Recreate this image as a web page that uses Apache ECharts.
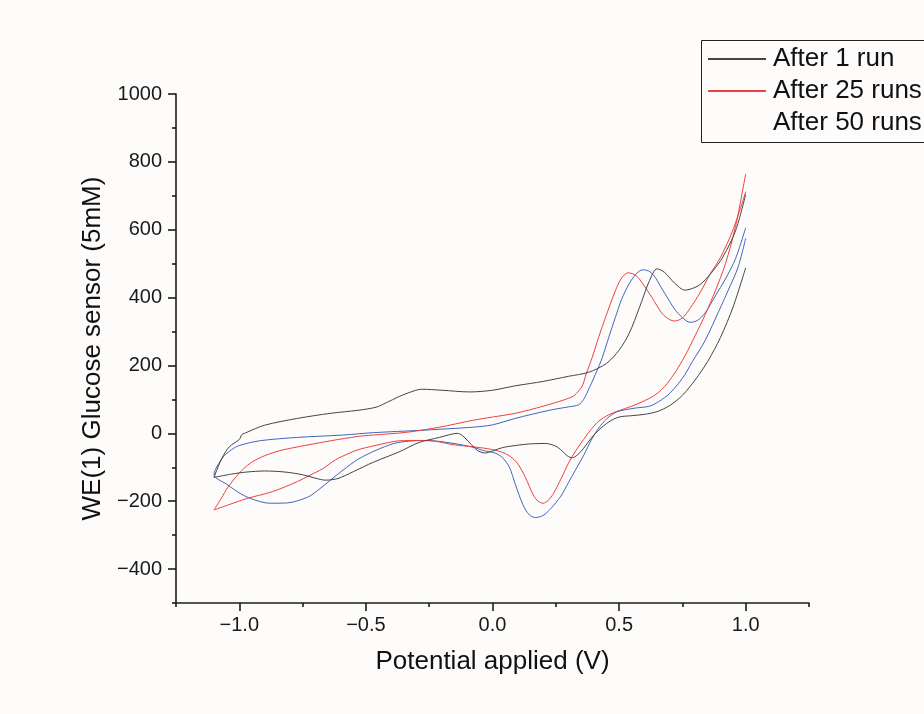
<!DOCTYPE html>
<html>
<head>
<meta charset="utf-8">
<style>
  html, body { margin: 0; padding: 0; background: #fdfcfb; }
  #chart { width: 924px; height: 714px; }
</style>
<script src="https://cdn.jsdelivr.net/npm/echarts@6/dist/echarts.min.js"></script>
</head>
<body>
<div id="chart"></div>
<script>
// Cyclic voltammograms of the glucose sensor working electrode.
// Each scan: return branch from +1.0 V down to -1.1 V, then forward branch back up to +1.0 V.
const seriesNames = ['After 1 run', 'After 25 runs', 'After 50 runs'];
const seriesColors = ['#454545', '#ee4040', '#4066b9'];

const run1Potential = [1.00, 0.95, 0.90, 0.85, 0.80, 0.75, 0.70, 0.65, 0.60, 0.55, 0.50, 0.46, 0.42, 0.39, 0.36, 0.335, 0.315, 0.295, 0.275, 0.25, 0.21, 0.15, 0.10, 0.04, 0.00, -0.03, -0.06, -0.09, -0.12, -0.14, -0.17, -0.21, -0.29, -0.37, -0.47, -0.55, -0.61, -0.66, -0.70, -0.75, -0.82, -0.90, -0.97, -1.03, -1.10,
  -1.07, -1.04, -1.00, -0.99, -0.97, -0.90, -0.77, -0.64, -0.53, -0.46, -0.42, -0.37, -0.33, -0.28, -0.20, -0.09, 0.00, 0.09, 0.20, 0.30, 0.38, 0.45, 0.50, 0.54, 0.58, 0.62, 0.65, 0.68, 0.72, 0.76, 0.80, 0.83, 0.87, 0.91, 0.96, 1.00];
const run1Current = [488, 372, 282, 212, 157, 112, 82, 64, 56, 52, 48, 34, 10, -14, -44, -64, -72, -66, -52, -38, -30, -31, -35, -42, -52, -58, -50, -28, -6, 0, -4, -12, -27, -55, -85, -113, -133, -138, -132, -122, -114, -111, -114, -120, -130,
  -75, -40, -18, -4, 3, 24, 44, 59, 68, 77, 90, 108, 120, 130, 127, 122, 127, 140, 153, 168, 180, 206, 245, 295, 370, 450, 485, 474, 442, 422, 430, 445, 478, 520, 597, 704];

const run25Potential = [1.00, 0.96, 0.92, 0.88, 0.84, 0.80, 0.76, 0.72, 0.68, 0.64, 0.60, 0.55, 0.50, 0.46, 0.42, 0.39, 0.36, 0.33, 0.30, 0.27, 0.24, 0.22, 0.20, 0.18, 0.16, 0.13, 0.10, 0.07, 0.04, 0.00, -0.04, -0.10, -0.16, -0.22, -0.28, -0.37, -0.41, -0.47, -0.53, -0.57, -0.62, -0.67, -0.72, -0.77, -0.87, -0.97, -1.04, -1.10,
  -1.07, -1.045, -1.00, -0.955, -0.90, -0.84, -0.77, -0.64, -0.53, -0.47, -0.34, -0.21, -0.08, 0.00, 0.09, 0.20, 0.28, 0.32, 0.34, 0.355, 0.37, 0.394, 0.42, 0.446, 0.485, 0.51, 0.535, 0.56, 0.58, 0.63, 0.67, 0.70, 0.72, 0.75, 0.78, 0.82, 0.86, 0.90, 0.95, 1.00];
const run25Current = [765, 610, 500, 420, 350, 287, 228, 178, 138, 112, 96, 80, 67, 55, 36, 12, -18, -50, -88, -135, -178, -198, -206, -200, -180, -130, -90, -68, -56, -48, -43, -38, -33, -24, -21, -22, -27, -37, -48, -60, -78, -104, -123, -142, -172, -192, -210, -226,
  -190, -159, -117, -87, -66, -51, -40, -22, -9, -5, 3, 18, 38, 48, 59, 80, 98, 110, 125, 140, 175, 224, 285, 341, 420, 458, 473, 468, 455, 400, 353, 335, 331, 340, 368, 415, 470, 518, 600, 712];

const run50Potential = [1.00, 0.97, 0.93, 0.895, 0.84, 0.79, 0.75, 0.70, 0.66, 0.62, 0.56, 0.49, 0.45, 0.42, 0.39, 0.36, 0.33, 0.30, 0.27, 0.23, 0.20, 0.17, 0.145, 0.12, 0.09, 0.067, 0.04, 0.01, -0.04, -0.07, -0.16, -0.26, -0.33, -0.39, -0.46, -0.53, -0.59, -0.64, -0.69, -0.73, -0.81, -0.88, -0.94, -0.99, -1.05, -1.10,
  -1.065, -1.03, -1.00, -0.92, -0.77, -0.59, -0.47, -0.28, -0.08, 0.00, 0.09, 0.225, 0.30, 0.34, 0.36, 0.383, 0.41, 0.434, 0.46, 0.485, 0.51, 0.54, 0.57, 0.595, 0.62, 0.643, 0.67, 0.698, 0.72, 0.75, 0.78, 0.81, 0.84, 0.88, 0.92, 0.96, 1.00];
const run50Current = [575, 490, 420, 362, 274, 212, 162, 118, 95, 80, 74, 63, 42, 16, -20, -65, -105, -145, -185, -222, -242, -248, -240, -210, -150, -100, -72, -58, -50, -42, -29, -21, -23, -30, -50, -76, -108, -138, -168, -188, -205, -206, -196, -180, -150, -122,
  -71, -48, -36, -22, -12, -5, 2, 9, 18, 25, 44, 68, 78, 84, 100, 135, 180, 224, 285, 341, 395, 441, 472, 482, 477, 459, 425, 391, 365, 341, 327, 333, 355, 405, 455, 515, 606];

const xMajorTicks = [-1.0, -0.5, 0.0, 0.5, 1.0];
const xMinorTicks = [-1.25, -0.75, -0.25, 0.25, 0.75, 1.25];
const yMajorTicks = [-400, -200, 0, 200, 400, 600, 800, 1000];
const yMinorTicks = [-500, -300, -100, 100, 300, 500, 700, 900];

const FONT = '"Liberation Sans", Arial, Helvetica, sans-serif';
const INK = '#1b1b1b';

function pairs(xs, ys) {
  return xs.map((x, i) => [x, ys[i]]);
}
function signed(v, digits) {
  const s = Math.abs(v).toFixed(digits);
  return v < 0 ? '\u2212' + s : s;
}

const scans = [
  pairs(run1Potential, run1Current),
  pairs(run25Potential, run25Current),
  pairs(run50Potential, run50Current)
];

const chart = echarts.init(document.getElementById('chart'), null, { renderer: 'canvas' });

const baseX = {
  type: 'value', min: -1.25, max: 1.25, gridIndex: 0, position: 'bottom',
  splitLine: { show: false }
};
const baseY = {
  type: 'value', min: -500, max: 1000, gridIndex: 0, position: 'left',
  splitLine: { show: false }
};

chart.setOption({
  backgroundColor: '#fdfcfb',
  animation: false,
  textStyle: { fontFamily: FONT },
  grid: { left: 176, right: 115, top: 94, bottom: 111, containLabel: false },
  // legend frame: top, left and bottom edges; the right side runs off the canvas
  graphic: [{
    type: 'polyline',
    shape: { points: [[990, 40.5], [701.5, 40.5], [701.5, 142.5], [990, 142.5]] },
    style: { fill: null, stroke: '#222', lineWidth: 1 },
    silent: true,
    z: 10
  }],
  legend: {
    orient: 'vertical',
    left: 701, top: 40,
    padding: [6, 6, 6, 6],
    itemWidth: 58, itemHeight: 10, itemGap: 6,
    borderWidth: 0,
    backgroundColor: 'transparent',
    itemStyle: { opacity: 0 },
    textStyle: { fontFamily: FONT, fontSize: 26, lineHeight: 26, color: '#111', padding: [0, 0, 0, 2] },
    data: [
      { name: seriesNames[0] },
      { name: seriesNames[1] },
      { name: seriesNames[2], lineStyle: { opacity: 0 } }
    ]
  },
  xAxis: [
    Object.assign({}, baseX, {
      name: 'Potential applied (V)',
      nameLocation: 'middle', nameGap: 46,
      nameTextStyle: { fontFamily: FONT, fontSize: 26, color: '#111' },
      axisLine: { show: true, onZero: false, lineStyle: { color: INK, width: 1.6 } },
      axisTick: { show: true, inside: false, length: 8, customValues: xMajorTicks, lineStyle: { color: INK, width: 1.6 } },
      axisLabel: { show: true, customValues: xMajorTicks, margin: 12, fontFamily: FONT, fontSize: 20, color: '#1a1a1a',
        formatter: v => signed(v, 1) }
    }),
    Object.assign({}, baseX, {
      axisLine: { show: false, onZero: false },
      axisTick: { show: true, inside: false, length: 4, customValues: xMinorTicks, lineStyle: { color: INK, width: 1.6 } },
      axisLabel: { show: false }
    })
  ],
  yAxis: [
    Object.assign({}, baseY, {
      name: 'WE(1) Glucose sensor (5mM)',
      nameLocation: 'middle', nameGap: 62,
      nameTextStyle: { fontFamily: FONT, fontSize: 26, color: '#111' },
      axisLine: { show: true, onZero: false, lineStyle: { color: INK, width: 1.6 } },
      axisTick: { show: true, inside: false, length: 8, customValues: yMajorTicks, lineStyle: { color: INK, width: 1.6 } },
      axisLabel: { show: true, customValues: yMajorTicks, margin: 14, fontFamily: FONT, fontSize: 20, color: '#1a1a1a',
        formatter: v => signed(v, 0) }
    }),
    Object.assign({}, baseY, {
      axisLine: { show: false, onZero: false },
      axisTick: { show: true, inside: false, length: 4, customValues: yMinorTicks, lineStyle: { color: INK, width: 1.6 } },
      axisLabel: { show: false }
    })
  ],
  series: scans.map((data, i) => ({
    name: seriesNames[i],
    type: 'line',
    xAxisIndex: 0,
    yAxisIndex: 0,
    data: data,
    showSymbol: false,
    symbol: 'none',
    smooth: 0.3,
    lineStyle: { color: seriesColors[i], width: 1 },
    itemStyle: { color: seriesColors[i] },
    z: 3 - i
  }))
});
</script>
</body>
</html>
